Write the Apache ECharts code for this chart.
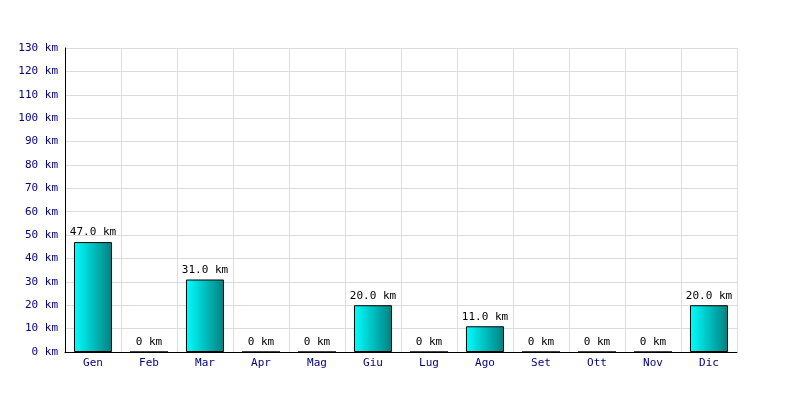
<!DOCTYPE html>
<html><head><meta charset="utf-8">
<script src="https://cdn.jsdelivr.net/npm/echarts@6/dist/echarts.min.js"></script>
<style>html,body{margin:0;padding:0;background:#fff}#c{width:800px;height:400px}</style>
</head><body><div id="c"></div>
<script>
const categories = ['Gen','Feb','Mar','Apr','Mag','Giu','Lug','Ago','Set','Ott','Nov','Dic'];
const values = [47,0,31,0,0,20,0,11,0,0,0,20];
const yMin = 0, yMax = 130, yStep = 10;
const font = 'DejaVu Sans Mono';
const chart = echarts.init(document.getElementById('c'));
chart.setOption({
  animation:false,
  backgroundColor:'#fff',
  grid:{left:65,right:63,top:48,bottom:48,containLabel:false},
  xAxis:{type:'category',data:categories,
    axisLine:{lineStyle:{color:'#000',width:1}},
    axisTick:{show:false},
    splitLine:{show:true,interval:0,lineStyle:{color:'#dddddd'}},
    axisLabel:{color:'#000080',fontFamily:font,fontSize:11,margin:6}},
  yAxis:{type:'value',min:yMin,max:yMax,interval:yStep,
    axisLine:{show:true,lineStyle:{color:'#000',width:1}},
    axisTick:{show:false},
    splitLine:{lineStyle:{color:'#dddddd'}},
    axisLabel:{color:'#000080',fontFamily:font,fontSize:11,margin:7,formatter:v=>v+' km'}},
  series:[{type:'bar',data:values,barWidth:'68%',
    itemStyle:{borderColor:'#000',borderWidth:1,
      color:new echarts.graphic.LinearGradient(0,0,1,0,[{offset:0,color:'#00ffff'},{offset:1,color:'#008080'}])},
    label:{show:true,position:'top',color:'#000',fontFamily:font,fontSize:11,distance:4,
      formatter:p=>p.value===0?'0 km':p.value.toFixed(1)+' km'}}]
});
</script></body></html>
